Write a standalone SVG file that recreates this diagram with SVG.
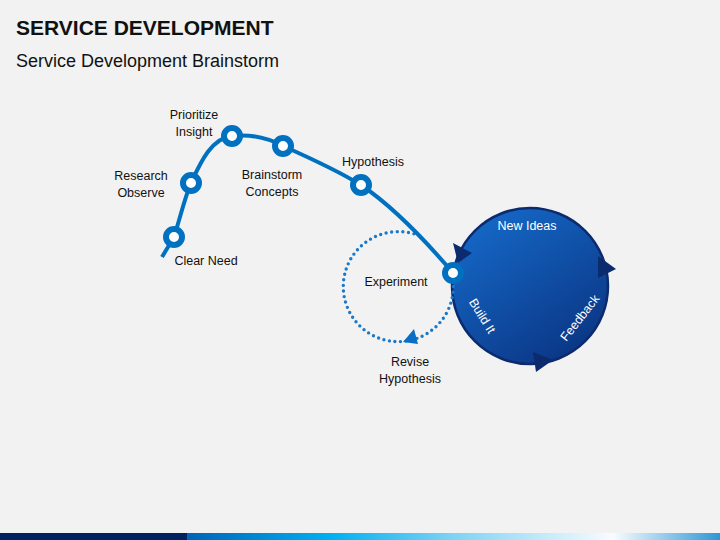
<svg xmlns="http://www.w3.org/2000/svg" width="720" height="540" viewBox="0 0 720 540">
<defs>
<style>
.lbl{font-family:"Liberation Sans",Arial,sans-serif;font-size:12.5px;fill:#111;text-anchor:middle}
.wlbl{font-family:"Liberation Sans",Arial,sans-serif;font-size:12.5px;fill:#fff;text-anchor:middle}
.node{fill:#fff;stroke:#0070c0;stroke-width:6}
.path{fill:none;stroke:#0070c0;stroke-width:4;stroke-linecap:butt}
.dots{fill:none;stroke:#1a78c8;stroke-width:3.4;stroke-linecap:round;stroke-dasharray:0 5.6}
.navy{fill:#0c2a6e}
</style>
<linearGradient id="bigGrad" x1="0.1" y1="0" x2="0.8" y2="1">
<stop offset="0" stop-color="#166ccc"/>
<stop offset="1" stop-color="#0a3482"/>
</linearGradient>
<linearGradient id="barGrad" x1="187" y1="0" x2="720" y2="0" gradientUnits="userSpaceOnUse">
<stop offset="0" stop-color="#0064b8"/>
<stop offset="0.27" stop-color="#00b0f0"/>
<stop offset="0.5" stop-color="#7fd3f4"/>
<stop offset="0.8" stop-color="#f8fcff"/>
<stop offset="1" stop-color="#2d96d6"/>
</linearGradient>
</defs>
<rect width="720" height="540" fill="#f2f2f2"/>
<rect x="0" y="533" width="187" height="7" fill="#002060"/>
<rect x="187" y="533" width="533" height="7" fill="url(#barGrad)"/>
<text x="16" y="35" font-family="Liberation Sans,Arial,sans-serif" font-size="21" font-weight="bold" fill="#111">SERVICE DEVELOPMENT</text>
<text x="16" y="67" font-family="Liberation Sans,Arial,sans-serif" font-size="18" fill="#111">Service Development Brainstorm</text>

<g id="cycle">
<circle cx="530" cy="286" r="78" fill="url(#bigGrad)" stroke="#0c2a6e" stroke-width="2.5"/>
<polygon class="navy" points="453,243 472,253 458,263"/>
<polygon class="navy" points="598,256 616,269 598,278"/>
<polygon class="navy" points="533,352 553,360 536,372"/>
<text class="wlbl" x="527" y="230">New Ideas</text>
<text class="wlbl" transform="translate(482,316) rotate(58)" y="4">Build It</text>
<text class="wlbl" transform="translate(580,318) rotate(-52)" y="4">Feedback</text>
</g>

<g id="experiment">
<path class="dots" d="M453,281 A55,55 0 1 1 424,238"/>
<polygon fill="#0a6fc4" points="403,342 414,329 418,344"/>
<text class="lbl" x="396" y="286">Experiment</text>
<text class="lbl" x="410" y="366">Revise</text>
<text class="lbl" x="410" y="383">Hypothesis</text>
</g>

<g id="connectors">
<path class="path" d="M162,257 L174,237 C181,215 184,200 191,183 C201,161 212,138 232,136 C250,134 268,138 283,146 C310,158 340,172 361,185 C395,208 425,240 453,273"/>
</g>

<g id="clear-need"><circle class="node" cx="174" cy="237" r="8"/><text class="lbl" x="206" y="265">Clear Need</text></g>
<g id="research"><circle class="node" cx="191" cy="183" r="8"/><text class="lbl" x="141" y="180">Research</text><text class="lbl" x="141" y="197">Observe</text></g>
<g id="prioritize"><circle class="node" cx="232" cy="136" r="8"/><text class="lbl" x="194" y="119">Prioritize</text><text class="lbl" x="194" y="136">Insight</text></g>
<g id="brainstorm"><circle class="node" cx="283" cy="146" r="8"/><text class="lbl" x="272" y="179">Brainstorm</text><text class="lbl" x="272" y="196">Concepts</text></g>
<g id="hypothesis"><circle class="node" cx="361" cy="185" r="8"/><text class="lbl" x="373" y="166">Hypothesis</text></g>
<g id="junction"><circle class="node" cx="453" cy="273" r="8"/></g>
</svg>
